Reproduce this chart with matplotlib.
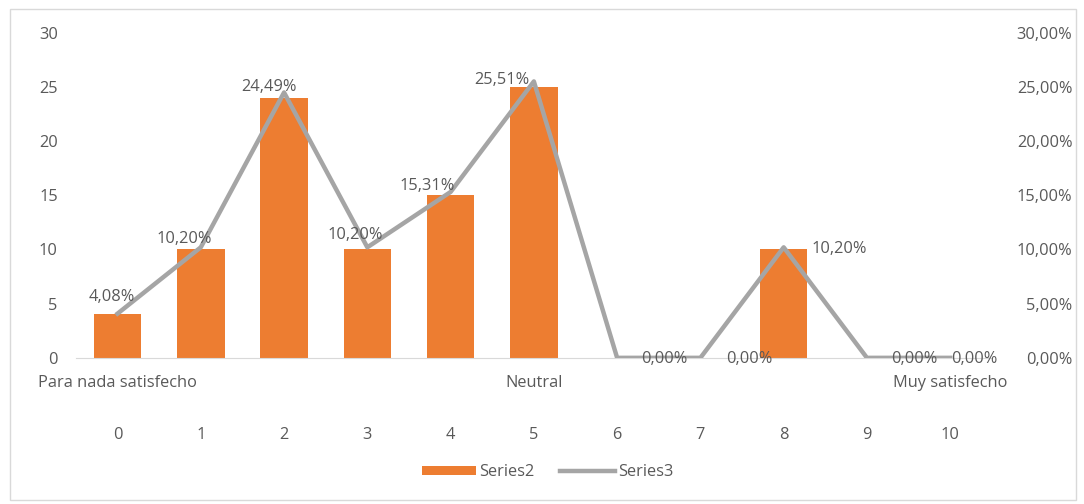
import matplotlib
matplotlib.use("Agg")
import matplotlib.pyplot as plt
from matplotlib.patches import Rectangle, Patch
from matplotlib.lines import Line2D
from matplotlib.ticker import FuncFormatter

# data
categories = ["0", "1", "2", "3", "4", "5", "6", "7", "8", "9", "10"]
groups = {0: "Para nada satisfecho", 5: "Neutral", 10: "Muy satisfecho"}
series2 = [4, 10, 24, 10, 15, 25, 0, 0, 10, 0, 0]
series3 = [4.08, 10.20, 24.49, 10.20, 15.31, 25.51, 0.00, 0.00, 10.20, 0.00, 0.00]

orange = "#ED7D31"
gray = "#A5A5A5"
txt = "#595959"

plt.rcParams["font.family"] = ["Open Sans", "DejaVu Sans"]
plt.rcParams["font.size"] = 11.8

fig = plt.figure(figsize=(10.84, 5.04), dpi=100)
fig.patches.append(Rectangle((0.009, 0.008), 0.984, 0.975, transform=fig.transFigure,
                             fill=False, edgecolor="#D9D9D9", linewidth=1))
ax = fig.add_axes([0.070, 0.290, 0.845, 0.645])
x = list(range(len(categories)))

ax.bar(x, series2, width=0.57, color=orange, zorder=2)
ax.set_xlim(-0.5, len(categories) - 0.5)
ax.set_ylim(0, 30)
ax.set_yticks(range(0, 31, 5))
for s in ["top", "right", "left"]:
    ax.spines[s].set_visible(False)
ax.spines["bottom"].set_color("#D9D9D9")
ax.tick_params(axis="y", length=0, colors=txt, pad=13)
ax.tick_params(axis="x", length=0, colors=txt, pad=50)
ax.set_xticks(x)
ax.set_xticklabels(categories)

for i, name in groups.items():
    ax.annotate(name, xy=(i, 0), xycoords=("data", "axes fraction"),
                xytext=(0, -18), textcoords="offset points",
                ha="center", va="center", color=txt)

ax2 = ax.twinx()
ax2.plot(x, [v / 100 for v in series3], color=gray, linewidth=3.2, zorder=3)
ax2.set_ylim(0, 0.30)
ax2.set_yticks([i * 0.05 for i in range(7)])
ax2.yaxis.set_major_formatter(FuncFormatter(lambda v, p: f"{v * 100:.2f}%".replace(".", ",")))
for s in ["top", "right", "left", "bottom"]:
    ax2.spines[s].set_visible(False)
ax2.tick_params(axis="y", length=0, colors=txt, pad=58)
for lab in ax2.get_yticklabels():
    lab.set_horizontalalignment("right")

# label offsets (points)
offs = [(-4, 12), (-12, 6), (-11, 4), (-9, 9), (-17, 4), (-23, 1),
        (34, -1), (35, -1), (40, -1), (34, -1), (17, -1)]
for i, v in enumerate(series3):
    ax2.annotate(f"{v:.2f}%".replace(".", ","), xy=(i, v / 100),
                 xytext=offs[i], textcoords="offset points",
                 ha="center", va="center", color=txt, zorder=5)

handles = [Patch(facecolor=orange), Line2D([], [], color=gray, linewidth=3.2)]
fig.legend(handles, ["Series2", "Series3"], loc="center", bbox_to_anchor=(0.505, 0.063),
           ncol=2, frameon=False, handlelength=3.3, handleheight=0.55,
           handletextpad=0.2, columnspacing=1.6, labelcolor=txt)

fig.savefig("out.png", dpi=100)
